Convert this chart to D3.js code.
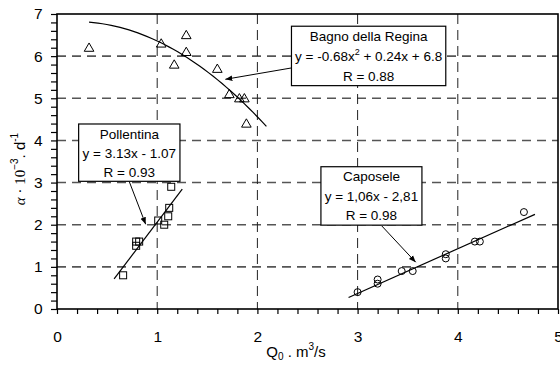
<!DOCTYPE html>
<html>
<head>
<meta charset="utf-8">
<script src="https://cdn.jsdelivr.net/npm/d3@7"></script>
<style>
  body { margin: 0; background: #fff; }
  svg { font-family: Arial, "Liberation Sans", sans-serif; }
</style>
</head>
<body>
<div class="chart"></div>
<script>
// Bagno della Regina (triangles)
const bagnoQ = [0.32, 1.04, 1.29, 1.29, 1.17, 1.60, 1.72, 1.82, 1.87, 1.89];
const bagnoA = [6.2, 6.3, 6.5, 6.1, 5.8, 5.7, 5.1, 5.0, 5.0, 4.4];
// Pollentina (squares)
const pollQ = [0.66, 0.79, 0.79, 0.82, 1.01, 1.07, 1.11, 1.12, 1.14];
const pollA = [0.8, 1.5, 1.6, 1.6, 2.1, 2.0, 2.2, 2.4, 2.9];
// Caposele (circles)
const capQ = [3.00, 3.20, 3.20, 3.44, 3.55, 3.88, 3.88, 4.17, 4.22, 4.66];
const capA = [0.4, 0.7, 0.6, 0.9, 0.9, 1.3, 1.2, 1.6, 1.6, 2.3];

// fitted trend lines, drawn across these Q ranges
const bagnoFitRange = [0.32, 2.09];
const pollFitRange = [0.57, 1.25];
const capFitRange = [2.91, 4.77];
const bagnoFit = q => -0.68 * q * q + 0.24 * q + 6.8;
const pollFit = q => 3.13 * q - 1.07;
const capFit = q => 1.06 * q - 2.81;

const xTicks = [0, 1, 2, 3, 4, 5];
const yTicks = [0, 1, 2, 3, 4, 5, 6, 7];

// margin convention
const margin = {top: 14, right: 2, bottom: 56, left: 57};
const width = 560 - margin.left - margin.right,
      height = 365 - margin.top - margin.bottom;

const svgRoot = d3.select(".chart").append("svg")
    .attr("width", 560)
    .attr("height", 365);

const defs = svgRoot.append("defs");
defs.append("marker")
    .attr("id", "arrow")
    .attr("viewBox", "0 0 10 10")
    .attr("refX", 10).attr("refY", 5)
    .attr("markerWidth", 7).attr("markerHeight", 7)
    .attr("markerUnits", "userSpaceOnUse")
    .attr("orient", "auto")
    .append("path")
    .attr("d", "M0,1 L10,5 L0,9 Z")
    .attr("fill", "#000");

const svg = svgRoot.append("g")
    .attr("transform", `translate(${margin.left},${margin.top})`);

const xScale = d3.scaleLinear().domain([0, 5]).range([0, width]);
const yScale = d3.scaleLinear().domain([0, 7]).range([height, 0]);

// grid
svg.append("g").selectAll("line")
    .data(yTicks.slice(1, -1))
    .join("line")
    .attr("x1", 0).attr("x2", width)
    .attr("y1", d => yScale(d)).attr("y2", d => yScale(d))
    .attr("stroke", "#555").attr("stroke-width", 1.6)
    .attr("stroke-dasharray", "9,6");

svg.append("g").selectAll("line")
    .data(xTicks.slice(1, -1))
    .join("line")
    .attr("y1", 0).attr("y2", height)
    .attr("x1", d => xScale(d)).attr("x2", d => xScale(d))
    .attr("stroke", "#222").attr("stroke-width", 1)
    .attr("stroke-dasharray", "10,6");

// axes
const xAxis = d3.axisBottom(xScale)
    .tickValues(d3.range(0, 5.001, 0.2))
    .tickSize(5)
    .tickFormat(d => xTicks.includes(Math.round(d * 100) / 100) ? d3.format("d")(d) : "");
const yAxis = d3.axisLeft(yScale)
    .tickValues(d3.range(0, 7.001, 0.2))
    .tickSize(6)
    .tickFormat(d => yTicks.includes(Math.round(d * 100) / 100) ? d3.format("d")(d) : "");

const xAxisSVG = svg.append("g")
    .attr("transform", `translate(0,${height})`)
    .call(xAxis);
const yAxisSVG = svg.append("g").call(yAxis);

[xAxisSVG, yAxisSVG].forEach(g => {
  g.select(".domain").remove();
  g.selectAll("line").attr("stroke", "#000").attr("stroke-width", 1.2);
  g.selectAll("text").attr("fill", "#000").attr("font-size", 15.5)
    .attr("font-family", "Arial, 'Liberation Sans', sans-serif");
});
xAxisSVG.selectAll("text").attr("dy", "1.62em");
yAxisSVG.selectAll("text").attr("dx", "-0.35em");

// plot frame
svg.append("rect")
    .attr("x", 0).attr("y", 0)
    .attr("width", width).attr("height", height)
    .attr("fill", "none").attr("stroke", "#000").attr("stroke-width", 1.6);

// trend lines
const line = d3.line().x(d => xScale(d[0])).y(d => yScale(d[1]));
function fitPoints(f, r, n) {
  return d3.range(n + 1).map(i => {
    const q = r[0] + (r[1] - r[0]) * i / n;
    return [q, f(q)];
  });
}
[[bagnoFit, bagnoFitRange, 40], [pollFit, pollFitRange, 1], [capFit, capFitRange, 1]]
  .forEach(([f, r, n]) => {
    svg.append("path")
      .attr("d", line(fitPoints(f, r, n)))
      .attr("fill", "none").attr("stroke", "#000").attr("stroke-width", 1.2);
  });

// markers
const tri = d3.symbol().type(d3.symbolTriangle).size(40);
svg.append("g").selectAll("path")
    .data(d3.zip(bagnoQ, bagnoA))
    .join("path")
    .attr("d", tri)
    .attr("transform", d => `translate(${xScale(d[0])},${yScale(d[1]) + 0.8})`)
    .attr("fill", "none").attr("stroke", "#000").attr("stroke-width", 1);

svg.append("g").selectAll("rect")
    .data(d3.zip(pollQ, pollA))
    .join("rect")
    .attr("x", d => xScale(d[0]) - 3.5).attr("y", d => yScale(d[1]) - 3.5)
    .attr("width", 7).attr("height", 7)
    .attr("fill", "none").attr("stroke", "#000").attr("stroke-width", 1);

svg.append("g").selectAll("circle")
    .data(d3.zip(capQ, capA))
    .join("circle")
    .attr("cx", d => xScale(d[0])).attr("cy", d => yScale(d[1]))
    .attr("r", 3.5)
    .attr("fill", "none").attr("stroke", "#000").attr("stroke-width", 1);

// annotation boxes: box in data units [q0, a0, q1, a1], arrow from -> to
const notes = [
  {lines: ["Bagno della Regina", "BAGNO_EQ", "R = 0.88"], box: [2.34, 6.71, 3.88, 5.30],
   from: [2.34, 5.72], to: [1.68, 5.45]},
  {lines: ["Pollentina", "y = 3.13x - 1.07", "R = 0.93"], box: [0.216, 4.39, 1.227, 3.03],
   from: [0.72, 3.03], to: [0.885, 2.01]},
  {lines: ["Caposele", "y = 1,06x - 2,81", "R = 0.98"], box: [2.634, 3.376, 3.642, 1.99],
   from: [3.24, 1.975], to: [3.58, 1.11]}
];

notes.forEach(n => {
  svg.append("line")
    .attr("x1", xScale(n.from[0])).attr("y1", yScale(n.from[1]))
    .attr("x2", xScale(n.to[0])).attr("y2", yScale(n.to[1]))
    .attr("stroke", "#000").attr("stroke-width", 1)
    .attr("marker-end", "url(#arrow)");
  const x0 = xScale(n.box[0]), y0 = yScale(n.box[1]);
  const w = xScale(n.box[2]) - x0, h = yScale(n.box[3]) - y0;
  svg.append("rect")
    .attr("x", x0).attr("y", y0).attr("width", w).attr("height", h)
    .attr("fill", "#fff").attr("stroke", "#000").attr("stroke-width", 1.2);
  n.lines.forEach((t, i) => {
    const txt = svg.append("text")
      .attr("x", x0 + w / 2)
      .attr("y", y0 + h * (i + 0.5) / 3 + 5)
      .attr("text-anchor", "middle")
      .attr("font-size", 13.5)
      .attr("fill", "#000");
    if (t === "BAGNO_EQ") {
      txt.append("tspan").text("y = -0.68x");
      txt.append("tspan").attr("dy", -6).attr("font-size", 9).text("2");
      txt.append("tspan").attr("dy", 6).text(" + 0.24x + 6.8");
    } else {
      txt.text(t);
    }
  });
});

// axis titles
const xt = svgRoot.append("text")
    .attr("x", 296).attr("y", 357)
    .attr("text-anchor", "middle")
    .attr("font-size", 15).attr("fill", "#000");
xt.append("tspan").text("Q");
xt.append("tspan").attr("dy", 3).attr("font-size", 10).text("0");
xt.append("tspan").attr("dy", -3).text(" . m");
xt.append("tspan").attr("dy", -7).attr("font-size", 10).text("3");
xt.append("tspan").attr("dy", 7).text("/s");

const yt = svgRoot.append("text")
    .attr("transform", "translate(25,169) rotate(-90)")
    .attr("text-anchor", "middle")
    .attr("font-size", 15).attr("fill", "#000");
yt.append("tspan").attr("font-family", "'Liberation Serif', 'DejaVu Serif', serif")
  .attr("font-style", "italic").text("α");
yt.append("tspan").attr("font-family", "'Liberation Serif', 'DejaVu Serif', serif")
  .text(" · 10");
yt.append("tspan").attr("dy", -7).attr("font-size", 10).text("−3");
yt.append("tspan").attr("dy", 7).text(". d");
yt.append("tspan").attr("dy", -7).attr("font-size", 10).text("-1");
</script>
</body>
</html>
